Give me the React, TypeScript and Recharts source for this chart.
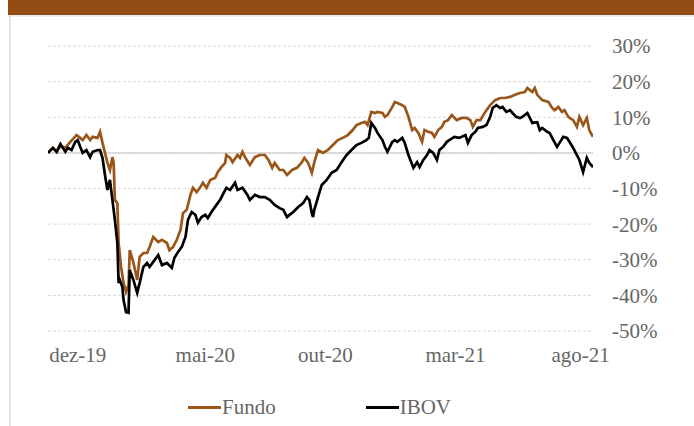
import { LineChart, Line, XAxis, YAxis, CartesianGrid, ReferenceLine } from 'recharts'

// retorno acumulado (%) por dia útil desde o início
const fundoDias = [
  0, 4, 7, 10, 14, 18, 21, 23, 26, 28,
  31, 34, 36, 40, 42, 44, 48, 50, 52, 53,
  54, 56, 57, 59, 61, 63, 65, 66, 69, 72,
  74, 77, 80, 82, 85, 89, 92, 96, 98, 101,
  104, 107, 109, 112, 115, 117, 120, 123, 125, 128,
  131, 135, 137, 140, 143, 144, 147, 149, 153, 155,
  157, 159, 163, 167, 171, 175, 178, 181, 183, 187,
  190, 193, 197, 201, 205, 207, 210, 213, 215, 218,
  222, 226, 230, 234, 238, 242, 246, 249, 253, 256,
  258, 261, 264, 266, 270, 272, 274, 278, 280, 282,
  286, 288, 291, 294, 296, 299, 302, 304, 307, 310,
  312, 315, 318, 320, 323, 326, 330, 334, 338, 341,
  343, 346, 349, 353, 357, 361, 365, 369, 373, 377,
  381, 385, 387, 391, 393, 395, 399, 404, 407, 409,
  412, 415, 417, 420, 424, 427, 429, 432, 435, 437,
  440,
]
const fundoRet = [
  0, 1.4, 0.3, 1.9, 1.4, 3.1, 4.2, 5.0, 4.2, 3.6,
  5.0, 3.6, 4.5, 4.2, 5.9, 2.8, -2.8, -4.8, -1.2, -2.8,
  -13.2, -14.1, -25.3, -32.0, -36.5, -39.0, -37.1, -27.3, -30.9, -35.7,
  -29.2, -28.1, -28.1, -26.4, -23.6, -25.0, -24.4, -25.3, -27.3, -26.4,
  -24.4, -21.6, -16.9, -16.0, -11.8, -9.8, -11.0, -9.6, -8.4, -9.8,
  -7.6, -7.0, -5.4, -4.0, -2.8, -0.6, -1.4, -2.6, -0.6, -1.4,
  0.3, -1.2, -3.4, -1.2, -0.6, -0.6, -2.0, -4.2, -2.8, -4.8,
  -4.8, -6.2, -4.8, -4.2, -2.6, -1.4, -2.8, -5.6, -2.6, 0.8,
  0.0, 0.8, 2.2, 3.6, 4.2, 5.0, 6.4, 7.8, 8.4, 8.7,
  7.8, 11.5, 11.2, 11.5, 11.2, 10.1, 10.6, 12.9, 14.3, 14.0,
  13.4, 12.9, 10.1, 6.4, 7.0, 5.6, 3.1, 6.4, 5.9, 5.6,
  4.5, 6.4, 7.3, 8.7, 9.2, 10.6, 9.2, 9.8, 9.8, 9.2,
  7.3, 9.2, 9.2, 11.5, 13.4, 14.8, 15.4, 15.4, 15.7, 16.3,
  16.8, 17.1, 18.2, 17.1, 18.2, 16.3, 14.8, 14.3, 12.6, 12.0,
  12.9, 11.5, 12.0, 10.1, 9.2, 7.3, 10.1, 7.8, 9.8, 6.4,
  4.5,
]

const ibovDias = [
  0, 4, 7, 10, 14, 16, 19, 22, 24, 26,
  28, 31, 34, 36, 40, 42, 44, 46, 48, 50,
  52, 54, 56, 57, 58, 60, 61, 63, 65, 66,
  69, 72, 74, 77, 80, 82, 86, 89, 92, 96,
  100, 102, 105, 108, 111, 113, 116, 119, 121, 124,
  127, 129, 132, 136, 139, 141, 144, 147, 151, 153,
  157, 161, 163, 167, 171, 175, 179, 183, 187, 190,
  193, 195, 198, 202, 206, 209, 211, 213, 214, 215,
  218, 221, 225, 229, 233, 237, 241, 245, 249, 253,
  257, 259, 261, 264, 266, 270, 272, 274, 278, 280,
  282, 286, 288, 291, 294, 295, 298, 300, 303, 306,
  308, 311, 314, 316, 319, 322, 324, 328, 332, 337,
  339, 342, 345, 347, 351, 354, 357, 359, 362, 365,
  367, 370, 373, 375, 378, 381, 383, 387, 389, 391,
  395, 397, 399, 403, 405, 408, 411, 413, 416, 419,
  421, 424, 427, 429, 432, 435, 437, 440,
]
const ibovRet = [
  0, 1.4, 0.3, 2.5, 0.3, 1.4, 0.8, 3.1, 3.6, 1.7,
  0.0, 0.8, -1.2, 0.3, 0.8, 0.8, -1.4, -6.2, -10.4, -7.6,
  -13.2, -18.8, -25.3, -36.5, -35.7, -37.6, -41.3, -44.7, -44.9, -32.9,
  -35.7, -39.3, -36.5, -32.0, -30.9, -32.0, -30.1, -28.7, -31.5, -30.9,
  -32.3, -29.5, -27.8, -26.4, -23.6, -18.8, -16.6, -17.4, -19.6, -18.0,
  -17.4, -18.3, -16.6, -14.6, -13.2, -11.8, -9.8, -10.4, -8.4, -10.4,
  -9.8, -11.8, -13.2, -11.8, -12.4, -12.4, -13.2, -14.6, -15.5, -16.0,
  -18.0, -17.4, -16.6, -15.2, -14.1, -12.4, -13.2, -16.9, -18.0, -16.0,
  -12.4, -9.0, -7.6, -5.6, -4.8, -2.6, -0.6, 0.8, 2.2, 2.8,
  3.6, 4.2, 8.4, 7.0, 5.6, 3.6, 1.7, 0.3, 3.1, 3.6,
  3.1, 4.2, 2.8, -0.6, -3.3, -4.2, -2.6, -4.0, -2.0, -0.6,
  0.8, 0.0, -2.0, 0.8, 1.7, 3.1, 3.6, 4.5, 4.2, 5.0,
  2.8, 5.0, 5.9, 7.0, 7.3, 7.8, 10.1, 12.6, 13.4, 12.6,
  12.9, 11.5, 12.0, 11.2, 10.1, 9.8, 10.1, 11.2, 9.8, 8.4,
  8.6, 6.4, 7.0, 5.9, 5.6, 3.6, 1.7, 2.8, 4.5, 4.2,
  3.1, 1.4, -0.6, -2.0, -5.4, -1.4, -2.8, -4.0,
]

const tickDias = [24, 127, 224, 329, 430]
const tickRotulos = ['dez-19', 'mai-20', 'out-20', 'mar-21', 'ago-21']
const yTicks = [-50, -40, -30, -20, -10, 0, 10, 20, 30]

const MARROM = '#9a5519'
const FONTE = '"Liberation Serif", "Times New Roman", serif'
const CINZA_TXT = '#666666'

const fundoData = fundoDias.map((d, i) => ({ d, v: fundoRet[i] }))
const ibovData = ibovDias.map((d, i) => ({ d, v: ibovRet[i] }))

export default function App() {
  return (
    <div style={{
      position: 'fixed', left: 0, top: 0, width: 694, height: 426,
      background: '#fff', fontFamily: FONTE, overflow: 'hidden',
    }}>
      {/* faixa superior */}
      <div style={{ position: 'absolute', left: 8, top: 0, width: 686, height: 15, background: '#934c13' }} />
      <div style={{ position: 'absolute', left: 8, top: 15, width: 686, height: 2, background: '#ececec' }} />
      <div style={{ position: 'absolute', left: 9, top: 16, width: 2, height: 410, background: '#e3e3e3' }} />

      <div style={{ position: 'absolute', left: 0, top: 0 }}>
        <LineChart width={694} height={426} margin={{ top: 46, right: 0, left: 48, bottom: 65 }}>
          <CartesianGrid horizontal vertical={false} stroke="#d9d9d9" strokeDasharray="3 2" />
          <XAxis
            type="number" dataKey="d" domain={[0, 440]} ticks={tickDias}
            tickFormatter={(v) => tickRotulos[tickDias.indexOf(v)] ?? ''}
            axisLine={false} tickLine={false} tickSize={0} tickMargin={16} height={30}
            tick={{ fontSize: 21, fill: CINZA_TXT, fontFamily: FONTE }}
            allowDataOverflow
          />
          <YAxis
            orientation="right" domain={[-50, 30]} ticks={yTicks} width={101}
            tickFormatter={(v) => `${v}%`}
            axisLine={false} tickLine={false} tickSize={0} tickMargin={19}
            tick={{ fontSize: 21, fill: CINZA_TXT, fontFamily: FONTE, textAnchor: 'start' }}
          />
          <ReferenceLine y={0} stroke="#d0d0d0" strokeWidth={1.5} />
          <Line data={fundoData} dataKey="v" name="Fundo" type="linear" stroke={MARROM}
            strokeWidth={2.7} dot={false} isAnimationActive={false} />
          <Line data={ibovData} dataKey="v" name="IBOV" type="linear" stroke="#000"
            strokeWidth={2.7} dot={false} isAnimationActive={false} />
        </LineChart>
      </div>

      {/* legenda */}
      <div style={{
        position: 'absolute', left: 188, top: 393, display: 'flex', alignItems: 'center',
        fontSize: 21, color: CINZA_TXT, lineHeight: '28px',
      }}>
        <span style={{ display: 'inline-block', width: 33, height: 3, background: MARROM, marginRight: 1 }} />
        <span>Fundo</span>
        <span style={{ display: 'inline-block', width: 33, height: 3, background: '#000', marginLeft: 90, marginRight: 1 }} />
        <span>IBOV</span>
      </div>
    </div>
  )
}
